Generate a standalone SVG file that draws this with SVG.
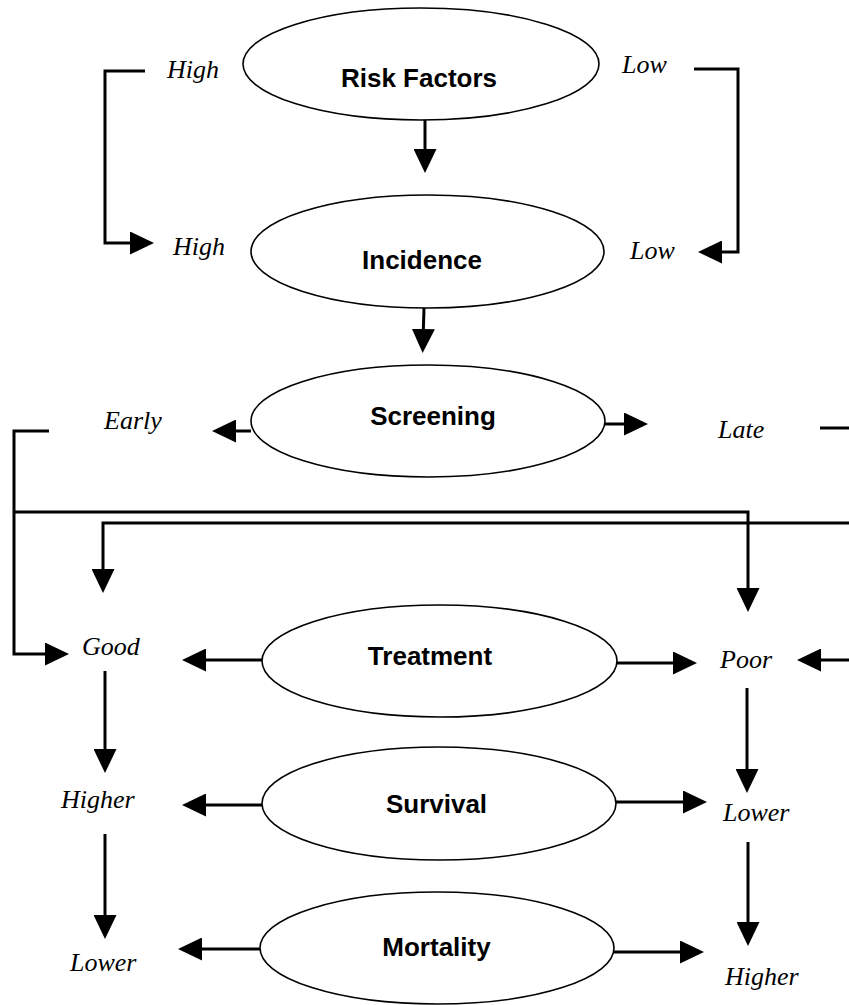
<svg xmlns="http://www.w3.org/2000/svg" width="849" height="1005" viewBox="0 0 849 1005">
<style>
.node ellipse{fill:#fff;stroke:#000;stroke-width:1.6}
.node text{font-family:"Liberation Sans",Arial,sans-serif;font-weight:bold;font-size:26px;fill:#000;text-anchor:middle}
.lbl{font-family:"Liberation Serif","Times New Roman",serif;font-style:italic;font-size:26px;fill:#000}
#connectors path{fill:none;stroke:#000;stroke-width:3;marker-end:url(#ah)}
#connectors path.plain{marker-end:none}
</style>
<defs>
<marker id="ah" markerUnits="userSpaceOnUse" markerWidth="24" markerHeight="23" refX="12" refY="11.5" orient="auto" viewBox="0 0 24 23">
<path d="M0,0 L24,11.5 L0,23 z" fill="#000"/>
</marker>
</defs>
<rect width="849" height="1005" fill="#fff"/>
<g id="connectors">
<path d="M425,120 V161"/>
<path d="M424,308 L423,341"/>
<path d="M251,431 H224"/>
<path d="M605,424 H636"/>
<path d="M145,71 H105 V243 H142"/>
<path d="M694,69 H738 V252 H710"/>
<path d="M49,431 H14 V654 H57"/>
<path d="M14,512 H748 V600"/>
<path class="plain" d="M820,428 H849"/>
<path d="M849,523 H103 V581"/>
<path d="M849,660 H809"/>
<path d="M262,660 H194"/>
<path d="M617,663 H685"/>
<path d="M105,671 V761"/>
<path d="M262,805 H194"/>
<path d="M616,802 H695"/>
<path d="M747,688 V781"/>
<path d="M105,834 V927"/>
<path d="M260,949 H190"/>
<path d="M614,952 H692"/>
<path d="M748,842 V934"/>
</g>
<g id="risk-factors" class="node"><ellipse cx="421" cy="64" rx="178" ry="56"/><text x="419" y="87">Risk Factors</text></g>
<g id="incidence" class="node"><ellipse cx="427.5" cy="251.5" rx="176.5" ry="56.5"/><text x="422" y="269">Incidence</text></g>
<g id="screening" class="node"><ellipse cx="428" cy="421" rx="177" ry="56"/><text x="433" y="425">Screening</text></g>
<g id="treatment" class="node"><ellipse cx="439.5" cy="661" rx="177.5" ry="56"/><text x="430" y="665">Treatment</text></g>
<g id="survival" class="node"><ellipse cx="439" cy="803.5" rx="177" ry="56.5"/><text x="436.5" y="813">Survival</text></g>
<g id="mortality" class="node"><ellipse cx="437" cy="948" rx="177" ry="56"/><text x="436.5" y="956">Mortality</text></g>
<g id="labels">
<text id="high-rf" class="lbl" x="167" y="78">High</text>
<text id="high-inc" class="lbl" x="173" y="255">High</text>
<text id="low-rf" class="lbl" x="622" y="73">Low</text>
<text id="low-inc" class="lbl" x="630" y="259">Low</text>
<text id="early" class="lbl" x="104" y="429">Early</text>
<text id="late" class="lbl" x="718" y="438">Late</text>
<text id="good" class="lbl" x="82" y="655">Good</text>
<text id="poor" class="lbl" x="720" y="668">Poor</text>
<text id="higher-surv" class="lbl" x="61" y="808">Higher</text>
<text id="lower-surv" class="lbl" x="723" y="821">Lower</text>
<text id="lower-mort" class="lbl" x="70" y="971">Lower</text>
<text id="higher-mort" class="lbl" x="725" y="985">Higher</text>
</g>
</svg>
